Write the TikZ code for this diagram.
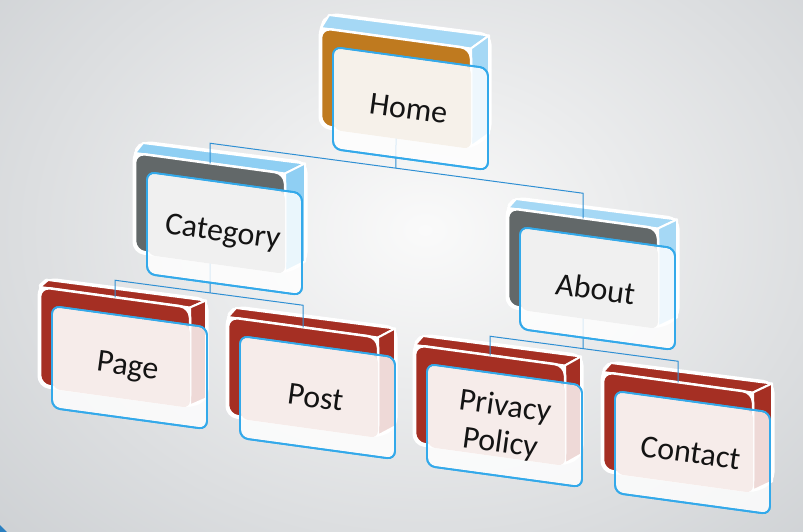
\documentclass[tikz,border=0pt]{standalone}
\usepackage{fontspec}
\setmainfont{Carlito}
\usetikzlibrary{calc}
\definecolor{bgout}{HTML}{CDD0D3}
\definecolor{bgin}{HTML}{FAFAFA}
\definecolor{homeface}{HTML}{BF7A1F}
\definecolor{grayface}{HTML}{626869}
\definecolor{redface}{HTML}{A52F23}
\definecolor{ltblue}{HTML}{A5D8F5}
\definecolor{catblue}{HTML}{8FCFF3}
\definecolor{tinthome}{HTML}{F6F1EA}
\definecolor{tintgray}{HTML}{F0F0F0}
\definecolor{tintred}{HTML}{F6ECEA}
\definecolor{cardblue}{HTML}{33A9EA}
\definecolor{linkblue}{HTML}{2F8FD3}
\definecolor{cornerblue}{HTML}{2A7FC0}
\tikzset{
  silh/.style={fill=white, draw=white, line width=5pt, rounded corners=9pt, line join=round},
  facebox/.style={draw=white, line width=2.5pt, rounded corners=10pt},
  sideface/.style={draw=white, line width=2pt, line join=round},
  cardbox/.style={fill=white, fill opacity=0.82, draw=cardblue, draw opacity=1, line width=1.8pt, rounded corners=8pt},
  tintbox/.style={rounded corners=7pt},
  link/.style={draw=linkblue, line width=1pt},
  lbl/.style={font=\fontsize{32}{37}\selectfont, text=black!92, align=center, inner sep=0pt},
}
% #1 name, #2 X, #3 Y, #4 face colour, #5 top/side colour, #6 top depth, #7 side depth
\newcommand{\myback}[7]{%
  \coordinate (#1-A) at (#2,#3);
  \coordinate (#1-B) at ($(#1-A)+(150,20.5)$);
  \coordinate (#1-C) at ($(#1-B)+(0,98)$);
  \coordinate (#1-D) at ($(#1-A)+(0,98)$);
  \coordinate (#1-A2) at ($(#1-A)+(8,#6)$);
  \coordinate (#1-B2) at ($(#1-B)+(#7,#6)$);
  \coordinate (#1-C2) at ($(#1-C)+(#7,#6)$);
  \coordinate (#1-top) at ($(#1-A)+(75,10.25)$);
  \coordinate (#1-bot) at ($(#1-A)+(75,108.25)$);
  \path[silh] (#1-D) -- (#1-A) -- (#1-A2) -- (#1-B2) -- (#1-C2) -- (#1-C) -- cycle;
  \path[sideface, fill=#5] (#1-A) -- (#1-A2) -- (#1-B2) -- (#1-B) -- cycle;
  \path[sideface, fill=#5] (#1-B) -- (#1-B2) -- (#1-C2) -- (#1-C) -- cycle;
  \path[facebox, fill=#4] (#1-A) -- (#1-B) -- (#1-C) -- (#1-D) -- cycle;
}
% #1 name, #2 tint, #3 text
\newcommand{\mycard}[3]{%
  \coordinate (#1-P) at ($(#1-A)+(12,19)$);
  \coordinate (#1-Q) at ($(#1-P)+(155,21.2)$);
  \coordinate (#1-R) at ($(#1-Q)+(0,102)$);
  \coordinate (#1-S) at ($(#1-P)+(0,102)$);
  \coordinate (#1-T) at ($(#1-P)+(138,18.9)$);
  \path[cardbox] (#1-P) -- (#1-Q) -- (#1-R) -- (#1-S) -- cycle;
  \path[tintbox, fill=#2] ($(#1-P)+(1,1)$) -- ($(#1-T)+(0,1)$) -- ($(#1-T)+(0,83)$) -- ($(#1-P)+(1,83)$) -- cycle;
  \path[draw=cardblue, line width=1.8pt, rounded corners=8pt] (#1-P) -- (#1-Q) -- (#1-R) -- (#1-S) -- cycle;
  \node[lbl, rotate=-7.7] (#1) at ($(#1-P)!0.5!(#1-R)+(-2,0)$) {#3};
}
\begin{document}
\begin{tikzpicture}[x=1pt, y=-1pt]
\useasboundingbox (0,0) rectangle (803,532);
\begin{scope}
\clip (0,0) rectangle (803,532);
\shade[inner color=bgin, outer color=bgout] (-170,-230) rectangle (1020,690);
\fill[cornerblue] (0,525) -- (0,532) -- (7,532) -- cycle;
\end{scope}

% back blocks
\myback{home}{321}{28}{homeface}{ltblue}{-13}{18}
\myback{cat}{135}{153}{grayface}{catblue}{-10}{20}
\myback{about}{508}{208}{grayface}{ltblue}{-9}{19}
\myback{page}{40}{287}{redface}{redface}{-7}{16}
\myback{post}{228}{317}{redface}{redface}{-9}{17}
\myback{priv}{415}{345}{redface}{redface}{-9}{16}
\myback{contact}{603}{372}{redface}{redface}{-9}{19}

% connectors
\coordinate (hb-l) at ($(cat-top)+(0,-20)$);
\coordinate (hb-r) at ($(about-top)+(0,-25)$);
\coordinate (home-bot2) at ($(home-bot)+(0,40)$);
\coordinate (hb-j) at (intersection of home-bot--home-bot2 and hb-l--hb-r);
\draw[link] (home-bot) -- (hb-j);
\draw[link] (cat-top) -- (hb-l) -- (hb-r) -- (about-top);

\coordinate (cb-l) at ($(page-top)+(0,-17)$);
\coordinate (cb-r) at ($(post-top)+(0,-22)$);
\coordinate (cat-bot2) at ($(cat-bot)+(0,50)$);
\coordinate (cb-j) at (intersection of cat-bot--cat-bot2 and cb-l--cb-r);
\draw[link] (cat-bot) -- (cb-j);
\draw[link] (page-top) -- (cb-l) -- (cb-r) -- (post-top);

\coordinate (ab-l) at ($(priv-top)+(0,-19)$);
\coordinate (ab-r) at ($(contact-top)+(0,-21)$);
\coordinate (about-bot2) at ($(about-bot)+(0,50)$);
\coordinate (ab-j) at (intersection of about-bot--about-bot2 and ab-l--ab-r);
\draw[link] (about-bot) -- (ab-j);
\draw[link] (priv-top) -- (ab-l) -- (ab-r) -- (contact-top);

% front cards
\mycard{home}{tinthome}{Home}
\mycard{cat}{tintgray}{Category}
\mycard{about}{tintgray}{About}
\mycard{page}{tintred}{Page}
\mycard{post}{tintred}{Post}
\mycard{priv}{tintred}{Privacy\\Policy}
\mycard{contact}{tintred}{Contact}
\end{tikzpicture}
\end{document}
